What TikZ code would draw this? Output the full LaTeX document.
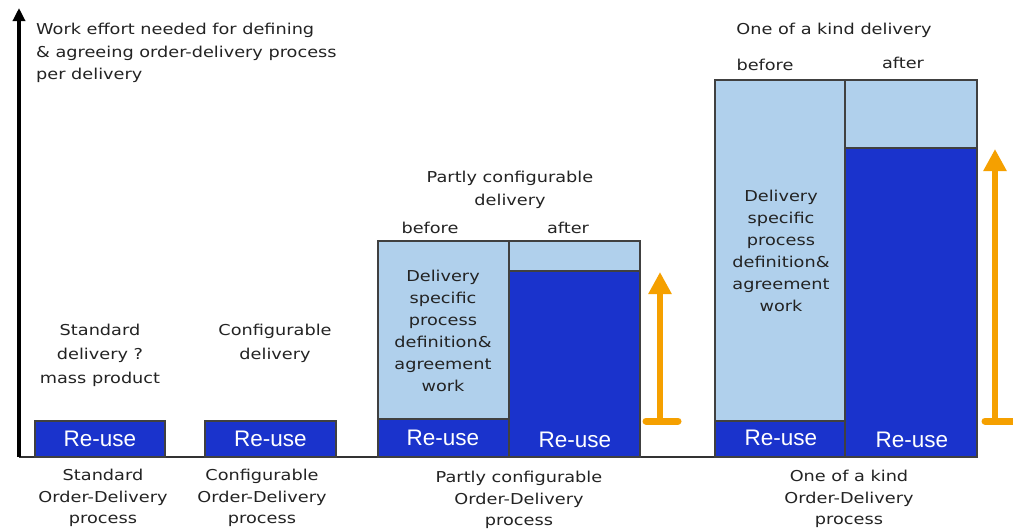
\documentclass[tikz,border=0pt]{standalone}
\usepackage{fontspec}
\setmainfont{Liberation Sans}
\newfontfamily\lblfont[FakeStretch=1.18]{DejaVu Sans}
\usetikzlibrary{arrows.meta}
\definecolor{dkblue}{RGB}{26,51,204}
\definecolor{ltblue}{RGB}{176,208,236}
\definecolor{orng}{RGB}{245,160,0}
\definecolor{txt}{RGB}{35,35,35}
\begin{document}
\begin{tikzpicture}[x=1pt,y=-1pt,
  bar/.style={draw=black!75, line width=1.2pt, anchor=north west, inner sep=0pt, outer sep=0pt},
  dark/.style={bar, fill=dkblue},
  light/.style={bar, fill=ltblue},
  lbl/.style={font=\lblfont\fontsize{15}{22.5}\selectfont, text=txt, align=center, inner sep=0pt},
  boxtxt/.style={font=\lblfont\fontsize{15}{22}\selectfont, text=txt, align=center, inner sep=0pt},
  reuse/.style={font=\fontsize{22.5}{22.5}\selectfont, text=white, inner sep=0pt},
  orarrow/.style={draw=orng, line width=6pt, -{Triangle[length=22pt,width=22pt]}},
  orbase/.style={draw=orng, line width=7pt, line cap=round},
]
\useasboundingbox[fill=white] (0,0) rectangle (1013,530);

% axes
\coordinate (o) at (19,457);
\coordinate (ytop) at (19,8);
\coordinate (xend) at (977,457);
\draw[black!80, line width=1.6pt] (o) -- (xend);
\draw[line width=3.2pt, -{Triangle[length=13pt,width=12pt]}] (o) -- (ytop);
\node[lbl, align=left, anchor=west] (ylbl) at (36,53) {Work effort needed for defining\\\& agreeing order-delivery process\\per delivery};

% standard
\node[dark, minimum width=130pt, minimum height=36pt] (std) at (35,421) {};
\node[reuse] (stdr) at (std.center) {Re-use};
\node[lbl, font=\lblfont\fontsize{15}{24}\selectfont] (stdtop) at (100,355) {Standard\\delivery ?\\mass product};
\node[lbl, font=\lblfont\fontsize{15}{21.5}\selectfont] (stdbot) at (103,498) {Standard\\Order-Delivery\\process};

% configurable
\node[dark, minimum width=131pt, minimum height=36pt] (cfg) at (205,421) {};
\node[reuse] (cfgr) at (cfg.center) {Re-use};
\node[lbl, font=\lblfont\fontsize{15}{24}\selectfont] (cfgtop) at (275,343) {Configurable\\delivery};
\node[lbl, font=\lblfont\fontsize{15}{21.5}\selectfont] (cfgbot) at (262,498) {Configurable\\Order-Delivery\\process};

% partly configurable
\node[light, minimum width=131pt, minimum height=178pt] (pbl) at (378,241) {};
\node[dark, minimum width=131pt, minimum height=38pt] (pbd) at (378,419) {};
\node[light, minimum width=131pt, minimum height=30pt] (pal) at (509,241) {};
\node[dark, minimum width=131pt, minimum height=186pt] (pad) at (509,271) {};
\node[reuse] (pbr) at (443,438) {Re-use};
\node[reuse] (par) at (575,440) {Re-use};
\node[boxtxt] (pbt) at (443,331) {Delivery\\specific\\process\\definition\&\\agreement\\work};
\node[lbl, font=\lblfont\fontsize{15}{23}\selectfont] (ptop) at (510,190) {Partly configurable\\delivery};
\node[lbl] (pbef) at (430,228) {before};
\node[lbl] (paft) at (568,228) {after};
\node[lbl, font=\lblfont\fontsize{15}{21.5}\selectfont] (pbot) at (519,500) {Partly configurable\\Order-Delivery\\process};
\coordinate (pa0) at (660,421);
\coordinate (pa1) at (660,272);
\coordinate (pb0) at (646,421);
\coordinate (pb1) at (678,421);
\draw[orbase] (pb0) -- (pb1);
\draw[orarrow] (pa0) -- (pa1);

% one of a kind
\node[light, minimum width=130pt, minimum height=341pt] (obl) at (715,80) {};
\node[dark, minimum width=130pt, minimum height=36pt] (obd) at (715,421) {};
\node[light, minimum width=132pt, minimum height=68pt] (oal) at (845,80) {};
\node[dark, minimum width=132pt, minimum height=309pt] (oad) at (845,148) {};
\node[reuse] (obr) at (781,438) {Re-use};
\node[reuse] (oar) at (912,440) {Re-use};
\node[boxtxt] (obt) at (781,251) {Delivery\\specific\\process\\definition\&\\agreement\\work};
\node[lbl] (otop) at (834,30) {One of a kind delivery};
\node[lbl] (obef) at (765,65) {before};
\node[lbl] (oaft) at (903,63) {after};
\node[lbl, font=\lblfont\fontsize{15}{21.5}\selectfont] (obot) at (849,499) {One of a kind\\Order-Delivery\\process};
\coordinate (oa0) at (995,421);
\coordinate (oa1) at (995,149);
\coordinate (ob0) at (985,421);
\coordinate (ob1) at (1018,421);
\draw[orbase] (ob0) -- (ob1);
\draw[orarrow] (oa0) -- (oa1);
\end{tikzpicture}
\end{document}
